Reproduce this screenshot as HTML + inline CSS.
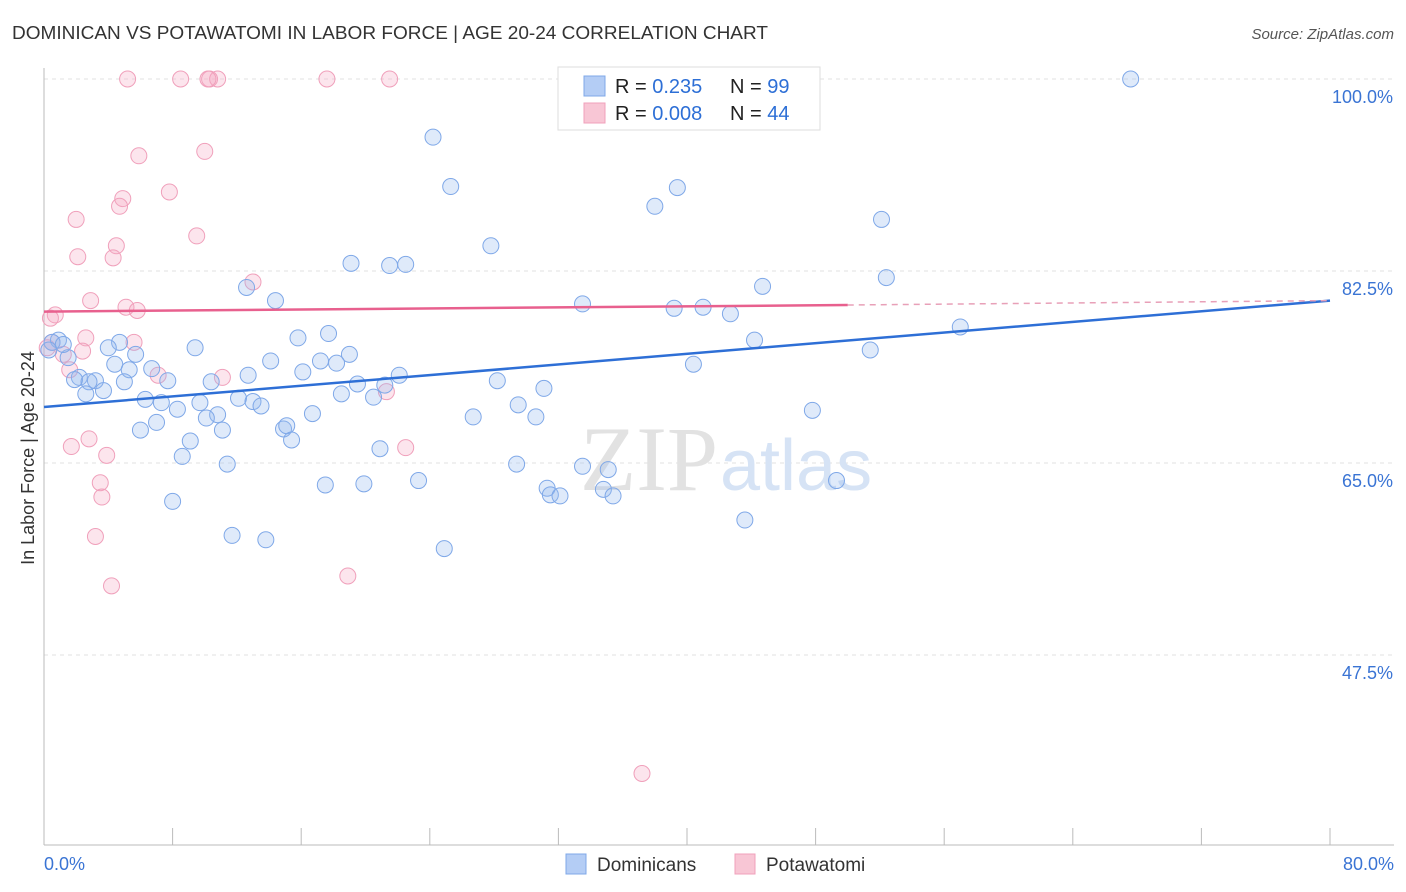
<!DOCTYPE html>
<html><head><meta charset="utf-8"><style>
body{margin:0;background:#fff;font-family:"Liberation Sans",sans-serif;}
svg{display:block}
</style></head><body>
<svg id="chart" width="1406" height="892">
<text x="12" y="39" font-size="18.5" fill="#333" textLength="756" lengthAdjust="spacingAndGlyphs">DOMINICAN VS POTAWATOMI IN LABOR FORCE | AGE 20-24 CORRELATION CHART</text>
<text x="1394" y="39" font-size="15" fill="#555" font-style="italic" text-anchor="end">Source: ZipAtlas.com</text>
<text x="34" y="458" font-size="18" fill="#333" text-anchor="middle" transform="rotate(-90 34 458)">In Labor Force | Age 20-24</text>
<g id="grid"></g>
<text x="718" y="490" font-size="92" fill="#e2e2e2" font-family="Liberation Serif,serif" text-anchor="end">ZIP</text>
<text x="720" y="490" font-size="72" fill="#d6e3f5">atlas</text>
<g id="marks"></g>
<g>
<rect x="558" y="67" width="262" height="63" fill="#fff" stroke="#ddd"/>
<rect x="584" y="76" width="21" height="20" fill="#b4cdf5" stroke="#7fa8e8"/>
<rect x="584" y="103" width="21" height="20" fill="#f8c6d5" stroke="#f0a0bb"/>
<text x="615" y="93" font-size="20" fill="#222">R =  <tspan fill="#2d6fd6">0.235</tspan></text>
<text x="730" y="93" font-size="20" fill="#222">N =  <tspan fill="#2d6fd6">99</tspan></text>
<text x="615" y="120" font-size="20" fill="#222">R = <tspan fill="#2d6fd6">0.008</tspan></text>
<text x="730" y="120" font-size="20" fill="#222">N = <tspan fill="#2d6fd6">44</tspan></text>
</g>
<g>
<rect x="566" y="854" width="20" height="20" fill="#b4cdf5" stroke="#7fa8e8"/>
<text x="597" y="871" font-size="19" fill="#333">Dominicans</text>
<rect x="735" y="854" width="20" height="20" fill="#f8c6d5" stroke="#f0a0bb"/>
<text x="766" y="871" font-size="19" fill="#333">Potawatomi</text>
</g>
</svg>
<script>
const blueX=[67.6,24.2,25.3,39.4,38.0,52.1,27.8,19.1,21.5,22.5,52.4,44.7,12.6,14.4,33.5,39.2,41.0,42.7,57.0,17.7,15.8,44.2,0.9,4.7,9.4,4.0,51.4,5.7,19.0,1.5,14.1,17.2,18.2,40.4,4.4,5.3,6.7,16.1,12.7,22.1,2.2,1.9,3.2,2.8,5.0,7.7,10.4,28.2,19.5,21.2,31.1,3.7,2.6,18.5,20.5,6.3,12.1,13.0,7.3,9.7,13.5,29.5,8.3,47.8,16.7,10.8,10.1,26.7,30.6,7.0,6.0,11.1,14.9,15.1,15.4,9.1,20.9,8.6,11.4,29.4,33.5,35.1,23.3,49.3,17.5,19.9,31.3,34.8,31.5,32.1,35.4,8.0,43.6,11.7,13.8,24.9,0.5,1.2,0.3];
const blueY=[100,94.7,90.2,90.1,88.4,87.2,84.8,83.2,83.0,83.1,81.9,81.1,81.0,79.8,79.5,79.1,79.2,78.6,77.4,76.8,76.4,76.2,76.2,76.0,75.5,75.5,75.3,74.9,74.9,74.6,74.3,74.3,74.1,74.0,74.0,73.5,73.6,73.3,73.0,73.0,72.8,72.6,72.5,72.4,72.4,72.5,72.4,72.5,72.2,72.1,71.8,71.6,71.3,71.3,71.0,70.8,70.9,70.6,70.5,70.5,70.2,70.3,69.9,69.8,69.5,69.4,69.1,69.2,69.2,68.7,68.0,68.0,68.1,68.4,67.1,67.0,66.3,65.6,64.9,64.9,64.7,64.4,63.4,63.4,63.0,63.1,62.7,62.6,62.1,62.0,62.0,61.5,59.8,58.4,58.0,57.2,76.0,75.8,75.3];
const pinkX=[5.2,8.5,10.3,10.8,10.2,17.6,21.5,43.4,5.9,10.0,7.8,4.9,4.7,2.0,9.5,4.5,2.1,4.3,13.0,2.9,5.1,5.8,0.7,0.4,2.6,5.6,0.5,0.2,2.4,1.2,1.6,7.1,11.1,21.3,2.8,1.7,22.5,3.9,3.5,3.6,3.2,18.9,4.2,37.2];
const pinkY=[100,100,100,100,100,100,100,100,93.0,93.4,89.7,89.1,88.4,87.2,85.7,84.8,83.8,83.7,81.5,79.8,79.2,78.9,78.5,78.2,76.4,76.0,76.0,75.5,75.2,74.9,73.5,73.0,72.8,71.5,67.2,66.5,66.4,65.7,63.2,61.9,58.3,54.7,53.8,36.7];
const blueTrend=[70.1,79.8];
const pinkTrend=[78.8,79.4,79.8];
const pinkSolidEnd=50;
const yTicks=[100,82.5,65,47.5];
const yTickLabels=["100.0%","82.5%","65.0%","47.5%"];
const xLabels=["0.0%","80.0%"];

const X=v=>44+v*(1286/80);
const Y=v=>79+(100-v)*(192/17.5);
const ns="http://www.w3.org/2000/svg";
function mk(t,a,p){const e=document.createElementNS(ns,t);for(const k in a)e.setAttribute(k,a[k]);p.appendChild(e);return e;}
const grid=document.getElementById('grid'),marks=document.getElementById('marks');
yTicks.forEach((t,i)=>{
 const l=mk('line',{x1:44,x2:1394,y1:Y(t),y2:Y(t),stroke:'#e2e2e2','stroke-dasharray':'4,4'},grid);
 
 
 const tx=mk('text',{x:1393,y:Y(t)+24,'font-size':18,fill:'#3a74d4','text-anchor':'end'},grid);
 tx.textContent=yTickLabels[i];
 
 
});
const ax=mk('line',{x1:44,x2:1394,y1:845,y2:845,stroke:'#bbb'},grid);


const ay=mk('line',{x1:44,x2:44,y1:68,y2:845,stroke:'#bbb'},grid);


for(let i=0;i<=10;i++){const tk=mk('line',{x1:X(i*8),x2:X(i*8),y1:828,y2:845,stroke:'#bbb'},grid);
 
 }
[[0,'start',44],[80,'end',1394]].forEach((d,i)=>{const t=mk('text',{x:d[2],y:870,'font-size':18,fill:'#3a74d4','text-anchor':d[1]},grid);t.textContent=xLabels[i];
 
 });
pinkX.forEach((v,i)=>{const c=mk('circle',{cx:X(v),cy:Y(pinkY[i]),r:8,fill:'rgba(245,170,195,0.3)',stroke:'#f0a0bb','stroke-width':1},marks);
 
 });
blueX.forEach((v,i)=>{const c=mk('circle',{cx:X(v),cy:Y(blueY[i]),r:8,fill:'rgba(150,185,240,0.3)',stroke:'#7fa8e8','stroke-width':1},marks);
 
 });
const bl=mk('line',{x1:X(0),y1:Y(blueTrend[0]),x2:X(80),y2:Y(blueTrend[1]),stroke:'#2e6fd6','stroke-width':2.5},marks);


const pl=mk('line',{x1:X(0),y1:Y(pinkTrend[0]),x2:X(pinkSolidEnd),y2:Y(pinkTrend[1]),stroke:'#e8608e','stroke-width':2.5},marks);


const pd=mk('line',{x1:X(pinkSolidEnd),y1:Y(pinkTrend[1]),x2:X(80),y2:Y(pinkTrend[2]),stroke:'#e8a0b8','stroke-width':1.5,'stroke-dasharray':'6,5'},marks);


</script>
</body></html>
